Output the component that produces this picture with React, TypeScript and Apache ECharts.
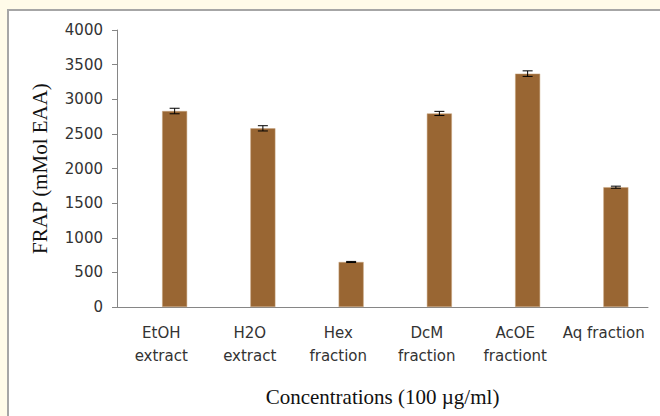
import React, { useEffect, useRef } from "react";
import * as echarts from "echarts";

const categories = [
  "EtOH\nextract",
  "H2O\nextract",
  "Hex\nfraction",
  "DcM\nfraction",
  "AcOE\nfractiont",
  "Aq fraction",
];
const frapValues = [2830, 2580, 650, 2795, 3370, 1730];
const frapErrors = [40, 38, 8, 30, 40, 15];
const yMin = 0;
const yMax = 4000;
const yInterval = 500;

export default function App() {
  const ref = useRef<HTMLDivElement>(null);
  useEffect(() => {
    document.body.style.margin = "0";
    const chart = echarts.init(ref.current!, null, { renderer: "svg" });
    const axisGrey = "#868686";
    const textColor = "#333333";
    chart.setOption({
      animation: false,
      backgroundColor: "#fffbe9",
      graphic: [
        {
          type: "rect",
          z: -10,
          silent: true,
          shape: { x: 8, y: 10, width: 700, height: 500 },
          style: { fill: "#ffffff", stroke: "#a6a6a6", lineWidth: 2 },
        },
      ],
      grid: [
        { left: 117, right: 12, top: 30, bottom: 109 },
        { left: 130.5, right: -1.5, top: 30, bottom: 109 },
      ],
      xAxis: [
        {
          type: "category",
          gridIndex: 0,
          data: categories,
          axisLine: { lineStyle: { color: axisGrey, width: 1 } },
          axisTick: { show: false },
          axisLabel: {
            interval: 0,
            color: textColor,
            fontFamily: "DejaVu Sans",
            fontSize: 15,
            lineHeight: 23,
            margin: 14,
          },
          name: "Concentrations (100 \u00b5g/ml)",
          nameLocation: "middle",
          nameGap: 79,
          nameTextStyle: {
            fontFamily: "Liberation Serif",
            fontSize: 21,
            color: "#111",
          },
        },
        {
          type: "category",
          gridIndex: 1,
          data: categories,
          show: false,
        },
      ],
      yAxis: [
        {
          type: "value",
          gridIndex: 0,
          min: yMin,
          max: yMax,
          interval: yInterval,
          splitLine: { show: false },
          axisLine: { show: true, lineStyle: { color: axisGrey, width: 1 } },
          axisTick: { show: true, inside: false, length: 5, lineStyle: { color: axisGrey } },
          axisLabel: {
            color: textColor,
            fontFamily: "DejaVu Sans",
            fontSize: 15,
            margin: 14,
            formatter: (v: number) => String(v),
          },
          name: "FRAP (mMol EAA)",
          nameLocation: "middle",
          nameGap: 67,
          nameRotate: 90,
          nameTextStyle: {
            fontFamily: "Liberation Serif",
            fontSize: 21,
            color: "#111",
          },
        },
        {
          type: "value",
          gridIndex: 1,
          min: yMin,
          max: yMax,
          interval: yInterval,
          show: false,
        },
      ],
      series: [
        {
          type: "bar",
          xAxisIndex: 1,
          yAxisIndex: 1,
          data: frapValues,
          barWidth: 25,
          itemStyle: { color: "#996633", borderColor: "#c9a47e", borderWidth: 0.5 },
        },
        {
          type: "custom",
          xAxisIndex: 1,
          yAxisIndex: 1,
          z: 5,
          data: frapValues.map((v, i) => [i, v, frapErrors[i]]),
          encode: { x: 0, y: 1 },
          renderItem: (params: any, api: any) => {
            const i = api.value(0);
            const v = api.value(1);
            const e = api.value(2);
            const top = api.coord([i, v + e]);
            const bot = api.coord([i, v - e]);
            const hw = 5;
            const style = { stroke: "#000", lineWidth: 1 };
            return {
              type: "group",
              children: [
                { type: "line", shape: { x1: top[0], y1: top[1], x2: bot[0], y2: bot[1] }, style },
                { type: "line", shape: { x1: top[0] - hw, y1: top[1], x2: top[0] + hw, y2: top[1] }, style },
                { type: "line", shape: { x1: bot[0] - hw, y1: bot[1], x2: bot[0] + hw, y2: bot[1] }, style },
              ],
            };
          },
        },
      ],
    });
    return () => chart.dispose();
  }, []);
  return <div ref={ref} style={{ width: 660, height: 416 }} />;
}
